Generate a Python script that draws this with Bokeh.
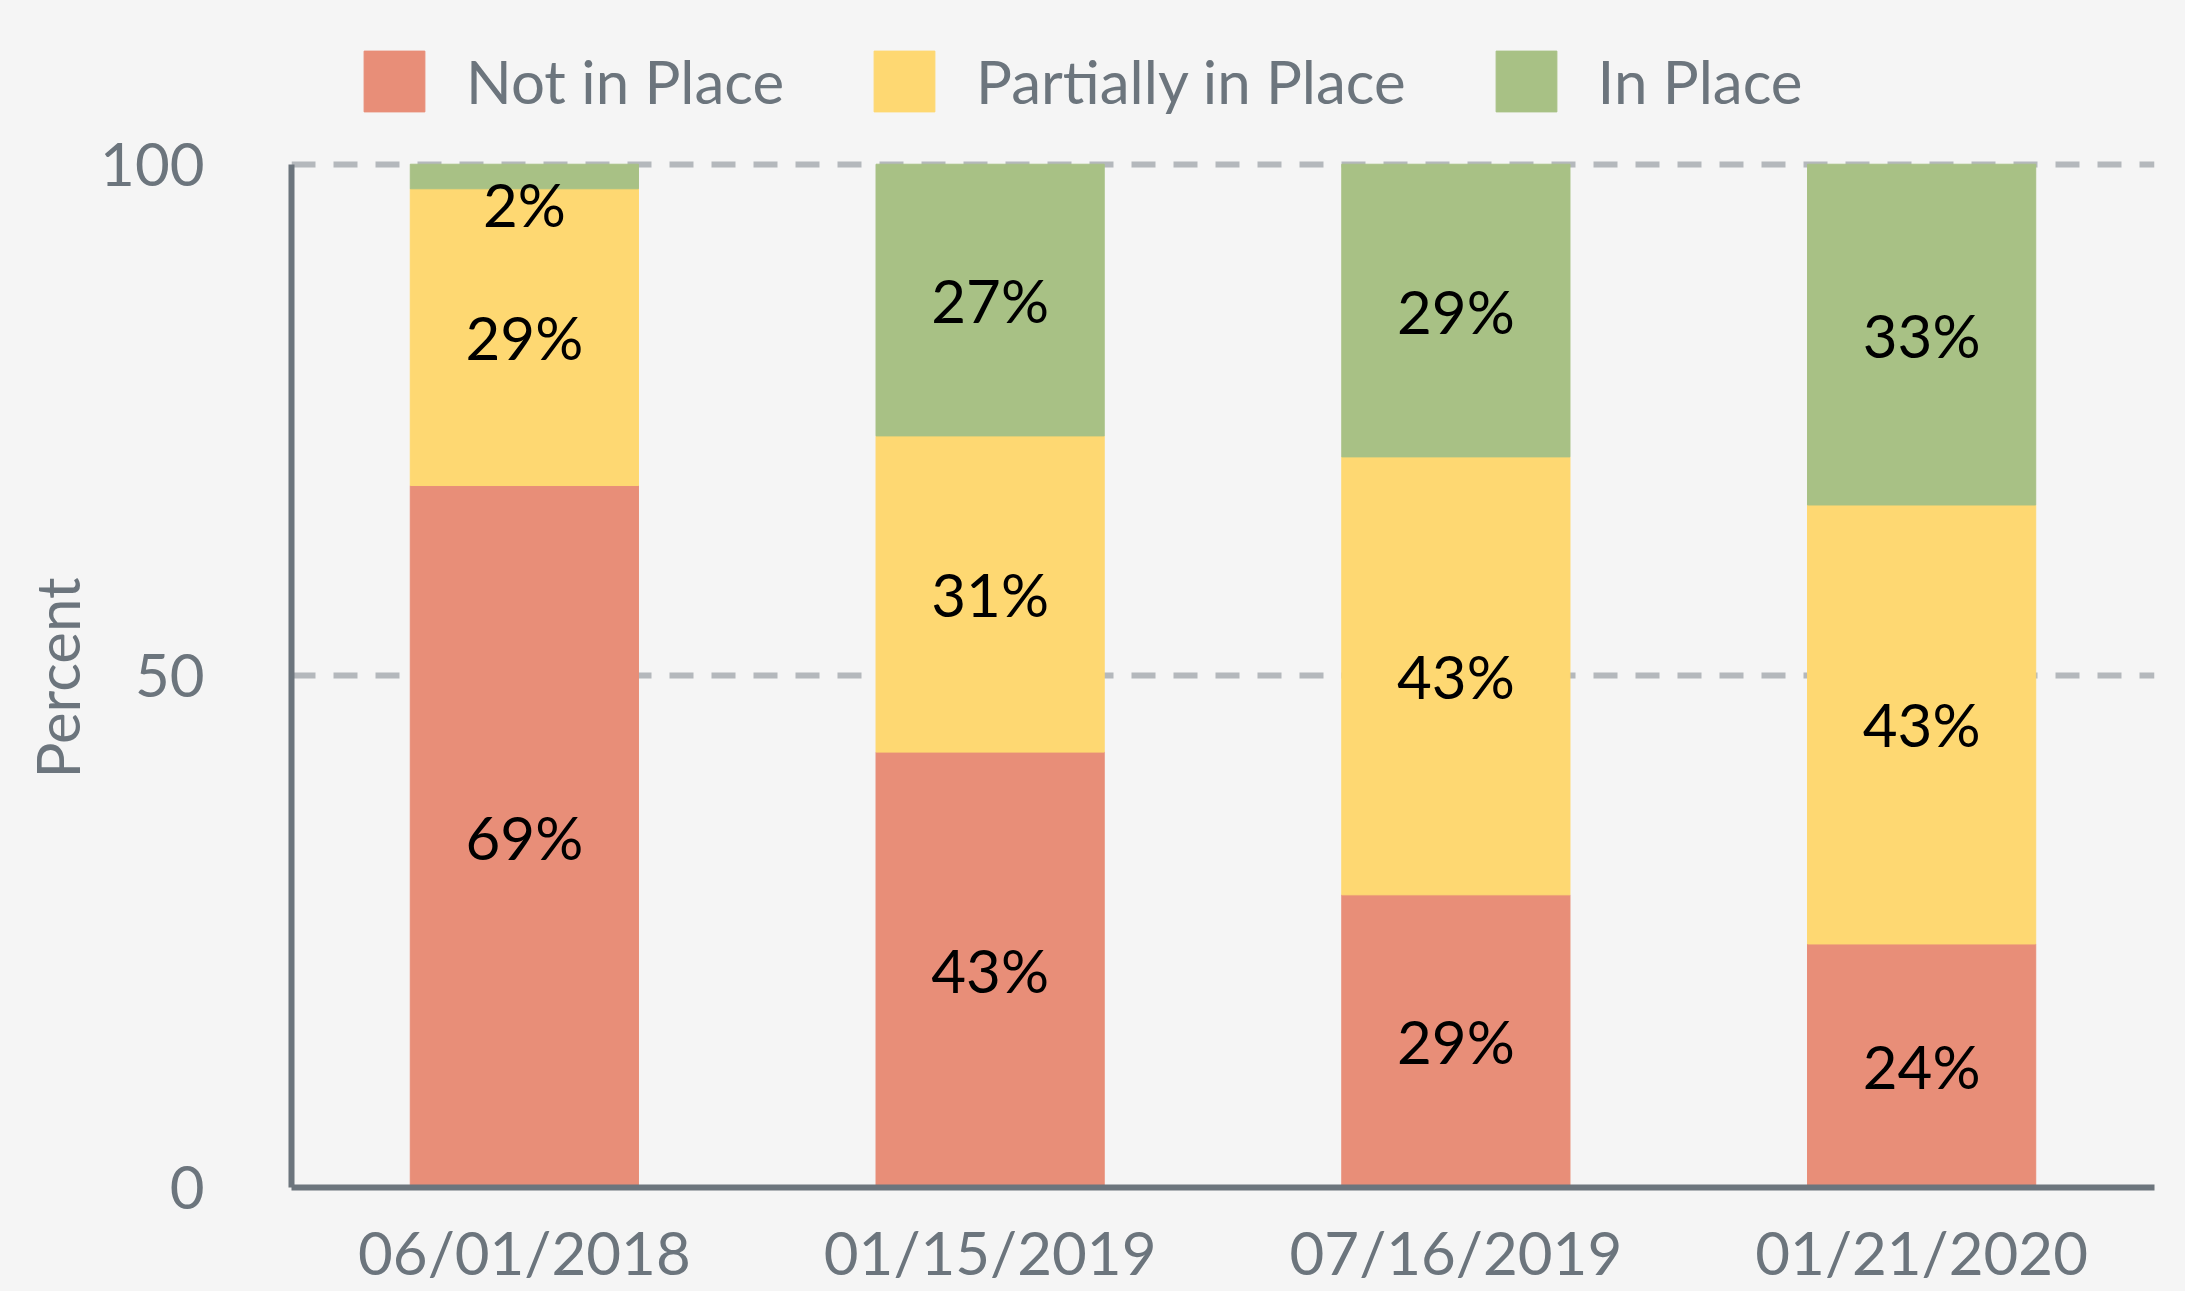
from bokeh.plotting import figure
from bokeh.models import ColumnDataSource, FixedTicker, Legend, FactorRange, Range1d, Title
from bokeh.embed import file_html
from bokeh.resources import INLINE
from bokeh.core.properties import value

# ---- data ----
dates = ["06/01/2018", "01/15/2019", "07/16/2019", "01/21/2020"]
statuses = ["Not in Place", "Partially in Place", "In Place"]
not_in_place = [68.6, 42.55, 28.6, 23.8]
partially_in_place = [29.0, 30.9, 42.8, 42.9]
in_place = [2.4, 26.55, 28.6, 33.3]
y_ticks = [0, 50, 100]
y_label = "Percent"

colors = ["#E88E78", "#FED872", "#A8C185"]
keys = ["not_in_place", "partially_in_place", "in_place"]
series = [not_in_place, partially_in_place, in_place]

FONT = "Lato"
GREY = "#6C757D"
BG = "#F5F5F5"

source = ColumnDataSource(dict(date=dates, **{k: v for k, v in zip(keys, series)}))

# frame spans the full height so the legend (inside the frame) is not clipped;
# the y axis line is bounded to 0..100
p = figure(
    x_range=FactorRange(factors=dates, range_padding=0),
    y_range=Range1d(0, 116.0),
    width=2185, height=1291,
    output_backend="svg", toolbar_location=None,
    min_border_left=291, min_border_right=31,
    min_border_top=0, min_border_bottom=104,
)
p.background_fill_color = BG
p.border_fill_color = BG
p.outline_line_color = None

renderers = p.vbar_stack(keys, x="date", width=0.49, color=colors, source=source)

# segment labels
lx, ly, lt = [], [], []
for i, d in enumerate(dates):
    base = 0.0
    for s in series:
        v = s[i]
        mid = min(base + v / 2.0, 96.1)
        lx.append(d)
        ly.append(mid)
        lt.append(f"{v:.0f}%")
        base += v
p.text(x="x", y="y", text="t", source=ColumnDataSource(dict(x=lx, y=ly, t=lt)),
       text_font=value(FONT), text_font_size="60px", text_color="#000000",
       text_align="center", text_baseline="middle")

# axes
p.yaxis.ticker = FixedTicker(ticks=y_ticks)
p.yaxis.bounds = (0, 100)
for ax in (p.xaxis[0], p.yaxis[0]):
    ax.axis_line_color = GREY
    ax.axis_line_width = 6
    ax.major_tick_line_color = None
    ax.minor_tick_line_color = None
    ax.major_label_text_font = FONT
    ax.major_label_text_font_size = "60px"
    ax.major_label_text_color = GREY
p.yaxis.major_label_standoff = 81
p.xaxis.major_label_standoff = 22

# y axis title, placed beside the axis and centred on the 0..100 span
p.add_layout(Title(text=y_label, align="left", offset=409,
                   text_font=FONT, text_font_size="60px", text_font_style="normal",
                   text_color=GREY), "left")

p.xgrid.grid_line_color = None
p.ygrid.grid_line_color = "#B4B8BC"
p.ygrid.grid_line_width = 6
p.ygrid.grid_line_dash = "24 18"

legend = Legend(
    items=[(name, [r]) for name, r in zip(statuses, renderers)],
    orientation="horizontal", location=(65, 1068),
    glyph_width=76, glyph_height=76, label_standoff=34, spacing=82,
    padding=0, margin=0, border_line_color=None, background_fill_alpha=0,
    label_text_font=FONT, label_text_font_size="60px", label_text_color=GREY,
)
p.add_layout(legend, "center")

html = file_html(p, INLINE)
html = html.replace("</head>", "<style>html,body{background:#F5F5F5;}</style></head>", 1)
open("out.html", "w").write(html)
